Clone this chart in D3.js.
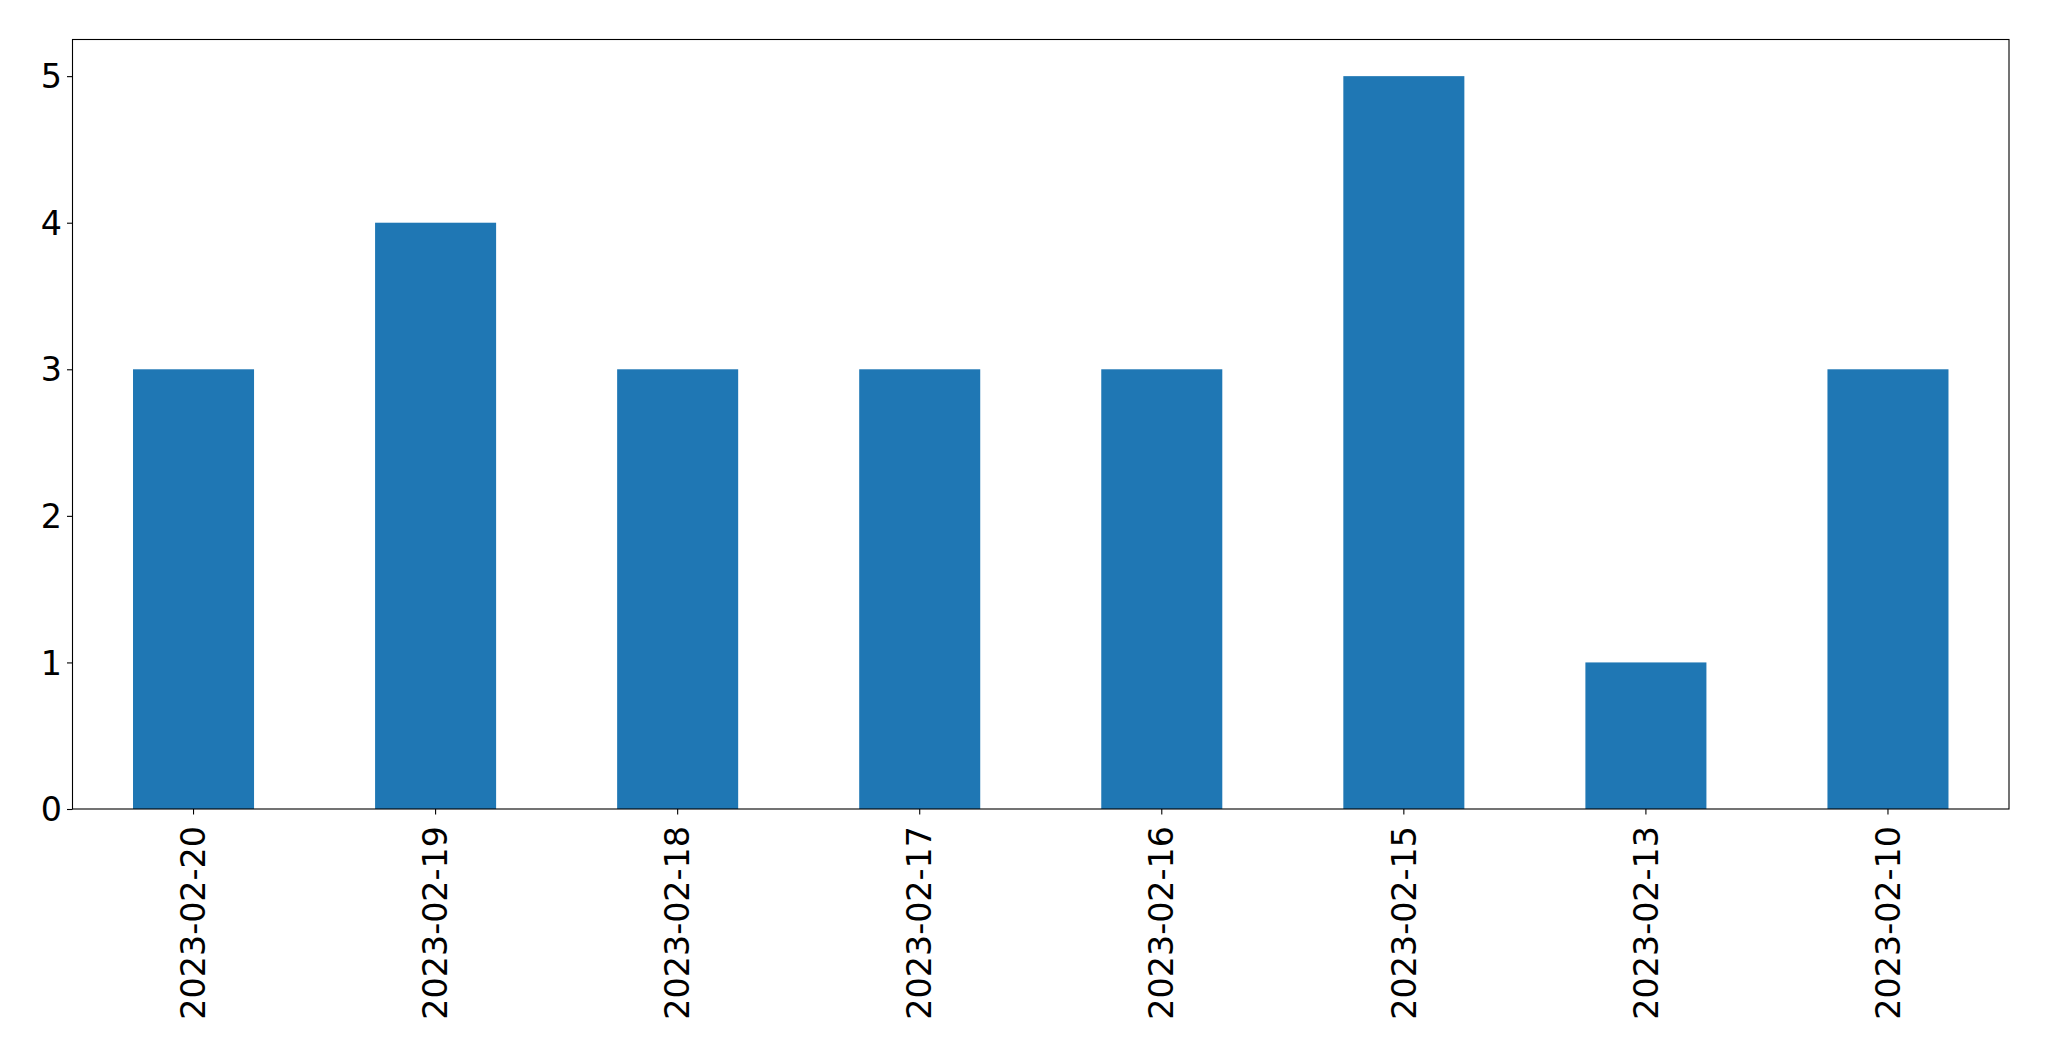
<!DOCTYPE html>
<html>
<head>
<meta charset="utf-8">
<script src="https://cdn.jsdelivr.net/npm/d3@7"></script>
<style>
html,body{margin:0;padding:0;background:#fff;}
svg{display:block;}
text{font-family:"DejaVu Sans",sans-serif;fill:#000;}
</style>
</head>
<body>
<svg id="chart" width="2049" height="1061"></svg>
<script>
const categories = ["2023-02-20","2023-02-19","2023-02-18","2023-02-17","2023-02-16","2023-02-15","2023-02-13","2023-02-10"];
const values = [3,4,3,3,3,5,1,3];
const yTicks = [0,1,2,3,4,5];

(function(){
const svg = d3.select("#chart");
const mLeft = 72.5, mRight = 2009, mTop = 39.5, mBottom = 809;

const x = d3.scaleBand().domain(categories).range([mLeft, mRight]).paddingInner(0.5).paddingOuter(0.25);
const y = d3.scaleLinear().domain([0, 5.25]).range([mBottom, mTop]);

svg.append("g").selectAll("rect").data(values).join("rect")
  .attr("x", (d,i) => x(categories[i]))
  .attr("width", x.bandwidth())
  .attr("y", d => y(d))
  .attr("height", d => y(0) - y(d))
  .attr("fill", "#1f77b4");

svg.append("rect").attr("x", mLeft).attr("y", mTop).attr("width", mRight-mLeft).attr("height", mBottom-mTop)
  .attr("fill","none").attr("stroke","#000").attr("stroke-width",1.1);

const yAxis = d3.axisLeft(y).tickValues(yTicks).tickFormat(d3.format("d")).tickSize(5.5).tickPadding(5);
const gy = svg.append("g").attr("transform", `translate(${mLeft},0)`).call(yAxis);
gy.select(".domain").remove();
gy.selectAll(".tick line").attr("stroke","#000").attr("stroke-width",1.1);
gy.selectAll(".tick text").attr("font-size","33.33px").attr("font-family","DejaVu Sans").attr("dy","0.35em");

const xAxis = d3.axisBottom(x).tickSize(5.5).tickPadding(0);
const gx = svg.append("g").attr("transform", `translate(0,${mBottom})`).call(xAxis);
gx.select(".domain").remove();
gx.selectAll(".tick line").attr("stroke","#000").attr("stroke-width",1.1);
gx.selectAll(".tick text")
  .attr("font-size","33.33px").attr("font-family","DejaVu Sans")
  .attr("text-anchor","end")
  .attr("transform","translate(0,17) rotate(-90)")
  .attr("x",0).attr("y",0).attr("dy","0.35em");
})();
</script>
</body>
</html>
